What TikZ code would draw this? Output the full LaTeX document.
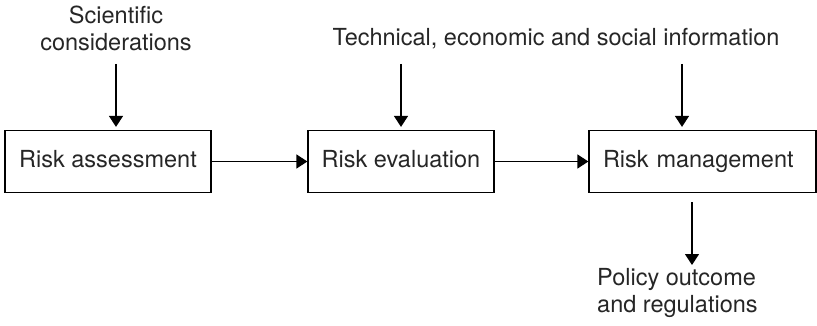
\documentclass[tikz,border=0pt]{standalone}
\usepackage{fontspec}
\setmainfont{TeX Gyre Heros}
\usetikzlibrary{arrows.meta}
\begin{document}
\begin{tikzpicture}[x=1pt,y=-1pt,
  box/.style={draw, line width=1.2pt, minimum height=62pt, inner ysep=0pt, inner xsep=0pt, text height=17pt, text depth=5pt, font=\fontsize{23.5}{27}\selectfont, text=black!85},
  lbl/.style={inner sep=0pt, align=center, font=\fontsize{23.5}{27}\selectfont, text=black!85},
  arr/.style={line width=1.2pt, -{Triangle[width=14pt,length=11pt]}}]
\useasboundingbox (0,0) rectangle (817,326);
\node[box, minimum width=206pt] (ra) at (108,161.5) {Risk assessment};
\node[box, minimum width=186pt] (re) at (401,161.5) {Risk evaluation};
\node[box, inner xsep=14pt, text width=199pt, align=left] (rm) at (702.5,161.5) {Risk management};
\node[lbl, anchor=north] (sci) at (116,6) {Scientific\\considerations};
\node[lbl, anchor=north] (tec) at (556,28) {Technical, economic and social information};
\node[lbl, anchor=north west, align=left] (pol) at (597,268) {Policy outcome\\and regulations};
\coordinate (s1) at (116,64);
\coordinate (s2) at (401,64);
\coordinate (s3) at (682,64);
\coordinate (s4) at (692,202);
\coordinate (e4) at (692,265);
\draw[arr, shorten >=3pt] (s1) -- (s1 |- ra.north);
\draw[arr, shorten >=3pt] (s2) -- (s2 |- re.north);
\draw[arr, shorten >=3pt] (s3) -- (s3 |- rm.north);
\draw[arr] (s4) -- (e4);
\draw[arr] (ra.east) -- (re.west);
\draw[arr] (re.east) -- (rm.west);
\end{tikzpicture}
\end{document}
